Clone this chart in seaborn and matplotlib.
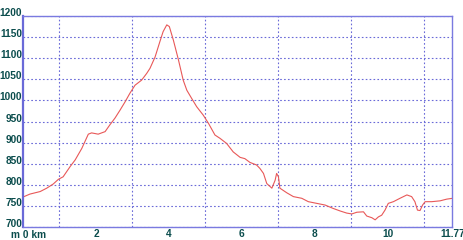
import matplotlib
matplotlib.use("Agg")
import matplotlib.pyplot as plt
import matplotlib.transforms as mtransforms
import seaborn as sns
import pandas as pd

distance_km = [0.00, 0.19, 0.47, 0.65, 0.83, 0.97, 1.10, 1.29, 1.43, 1.61, 1.79, 1.88,
               2.06, 2.25, 2.38, 2.52, 2.66, 2.80, 2.93, 3.07, 3.25, 3.39, 3.48, 3.62,
               3.75, 3.84, 3.94, 4.01, 4.12, 4.26, 4.39, 4.49, 4.62, 4.76, 4.94, 5.08,
               5.26, 5.40, 5.58, 5.76, 5.95, 6.08, 6.22, 6.40, 6.49, 6.59, 6.68, 6.82,
               6.91, 6.95, 7.00, 7.04, 7.23, 7.41, 7.64, 7.82, 8.05, 8.28, 8.50, 8.69,
               8.87, 9.01, 9.15, 9.33, 9.42, 9.56, 9.65, 9.74, 9.83, 9.92, 10.01, 10.15,
               10.33, 10.52, 10.65, 10.74, 10.81, 10.88, 10.95, 11.02, 11.20, 11.43,
               11.61, 11.77]
elevation_m = [771, 778, 784, 792, 802, 813, 819, 843, 859, 886, 920, 923,
               920, 926, 942, 958, 977, 997, 1017, 1036, 1048, 1064, 1076, 1103,
               1139, 1163, 1179, 1175, 1143, 1096, 1048, 1024, 1005, 985, 965, 946,
               918, 910, 898, 878, 865, 862, 853, 847, 839, 827, 803, 792,
               811, 827, 819, 792, 781, 772, 768, 760, 756, 752, 744, 738,
               733, 731, 735, 736, 726, 722, 717, 724, 728, 740, 756, 760,
               768, 776, 772, 760, 740, 739, 752, 760, 760, 762,
               766, 768]

x_tick_values = [0, 2, 4, 6, 8, 10, 11.77]
x_tick_labels = ["m 0 km", "2", "4", "6", "8", "10", "11.77"]
y_tick_values = [700, 750, 800, 850, 900, 950, 1000, 1050, 1100, 1150, 1200]

sns.set_style("white")
plt.rcParams['font.family'] = ['Liberation Sans', 'DejaVu Sans']

df = pd.DataFrame({"km": distance_km, "elev": elevation_m})

fig = plt.figure(figsize=(4.64, 2.40), dpi=100)
ax = fig.add_axes([23/464, 13/240, (452.5-23)/464, (227-16)/240])

sns.lineplot(data=df, x="km", y="elev", ax=ax, color="#e85858", linewidth=0.8)

ax.set_xlim(0, 11.77)
ax.set_ylim(700, 1200)

ax.set_xticks(x_tick_values)
ax.set_xticklabels([""] + x_tick_labels[1:])
ax.set_xticks(list(range(1, 12)), minor=True)
ax.set_yticks(y_tick_values)
ax.set_yticklabels([str(v) for v in y_tick_values])

ax.grid(False)
ax.grid(True, which="minor", axis="x", linestyle=(0, (1.5, 2)), color="#6a6ad8", linewidth=0.8)
ax.grid(True, which="major", axis="y", linestyle=(0, (1.5, 2)), color="#6a6ad8", linewidth=0.8)

ax.tick_params(axis="both", which="both", length=0)
ax.tick_params(axis="x", pad=1.5)
ax.tick_params(axis="y", pad=0.5)
lab_color = "#0b4d4d"
fs = 7.3
for t in ax.get_xticklabels():
    t.set_color(lab_color); t.set_fontsize(fs); t.set_fontweight("bold")
for t in ax.get_yticklabels():
    t.set_color(lab_color); t.set_fontsize(fs); t.set_fontweight("bold")
    t.set_verticalalignment("baseline")

# first x label "m 0 km", slightly right of the 0 position as in the reference
trans = mtransforms.blended_transform_factory(ax.transData, ax.transAxes)
ax.text(x_tick_values[0] + 0.14, -0.012, x_tick_labels[0], transform=trans,
        ha="center", va="top", fontsize=fs, fontweight="bold", color=lab_color)

for side in ["top", "bottom", "right"]:
    ax.spines[side].set_color("#7a7ae0")
    ax.spines[side].set_linewidth(1.0)
ax.spines["left"].set_color("#6a6ad8")
ax.spines["left"].set_linewidth(1.6)

ax.set_xlabel("")
ax.set_ylabel("")

fig.savefig("out.png", dpi=100)
